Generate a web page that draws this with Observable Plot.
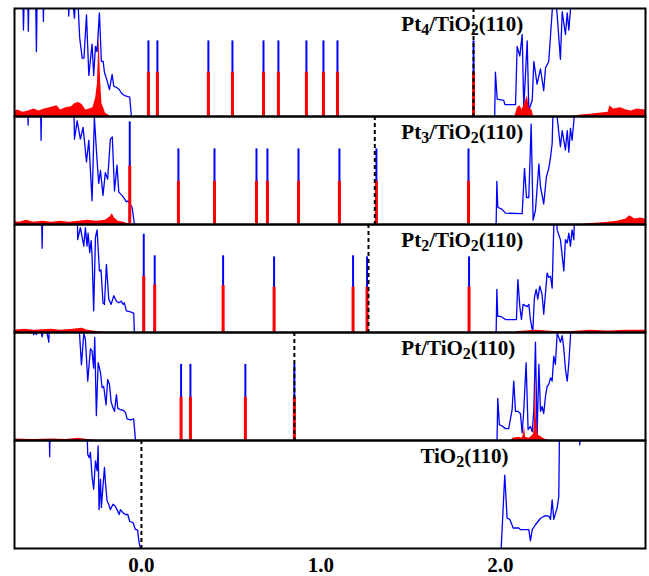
<!DOCTYPE html>
<html><head><meta charset="utf-8">
<script src="https://cdn.jsdelivr.net/npm/d3@7"></script>
<script src="https://cdn.jsdelivr.net/npm/@observablehq/plot@0.6"></script>
<style>body{margin:0;background:#fff}</style>
</head><body><div id="chart"></div>
<script>
// Panel titles (top to bottom); "_d" marks a subscript digit
const panelLabels = ["Pt_4/TiO_2(110)", "Pt_3/TiO_2(110)", "Pt_2/TiO_2(110)", "Pt/TiO_2(110)", "TiO_2(110)"];
const labelE = [1.448, 1.448, 1.448, 1.448, 1.554];
const fermiE = [1.85, 1.30, 1.265, 0.852, 0.0];
const xTicks = [0, 1, 2];

// Total DOS (blue), [energy, DOS] — valence and conduction parts
const pt4Valence = [[-0.72,1.5],[-0.665,1.5],[-0.657,0.80],[-0.648,1.5],[-0.637,1.5],[-0.63,0.79],[-0.622,1.5],[-0.592,1.5],[-0.585,0.60],[-0.578,1.5],[-0.552,1.5],[-0.546,0.88],[-0.54,1.5],[-0.412,1.5],[-0.405,0.93],[-0.395,1.3],[-0.373,0.91],[-0.36,1.3],[-0.344,0.73],[-0.33,0.54],[-0.32,0.54],[-0.306,0.94],[-0.293,0.38],[-0.275,0.67],[-0.266,0.38],[-0.256,0.65],[-0.247,0.60],[-0.234,0.96],[-0.223,0.51],[-0.213,0.51],[-0.206,0.41],[-0.191,0.33],[-0.178,0.25],[-0.163,0.39],[-0.154,0.28],[-0.139,0.27],[-0.124,0.25],[-0.108,0.21],[-0.089,0.19],[-0.065,0.18],[-0.056,0]];
const pt4Conduction = [[1.968,0],[1.972,0.41],[1.982,0.16],[2.018,0.15],[2.025,0.11],[2.084,0.11],[2.093,0.65],[2.108,0.56],[2.121,0.76],[2.130,0.085],[2.149,0.70],[2.158,0.055],[2.177,0.15],[2.186,0.51],[2.204,0.30],[2.223,0.44],[2.241,0.24],[2.251,0.45],[2.269,0.51],[2.288,0.97],[2.297,1.3],[2.316,0.94],[2.334,0.53],[2.344,0.97],[2.362,0.76],[2.372,0.96],[2.381,0.80],[2.390,0.99],[2.409,1.5],[2.82,1.5]];

const pt3Valence = [[-0.72,1.5],[-0.637,1.5],[-0.631,0.92],[-0.625,1.5],[-0.565,1.5],[-0.559,0.78],[-0.553,1.5],[-0.38,1.5],[-0.373,0.79],[-0.358,0.96],[-0.34,0.79],[-0.325,0.90],[-0.306,0.58],[-0.293,0.78],[-0.275,0.22],[-0.262,0.99],[-0.247,0.59],[-0.238,0.38],[-0.228,0.50],[-0.214,0.27],[-0.201,0.48],[-0.188,0.42],[-0.173,0.79],[-0.162,0.81],[-0.150,0.31],[-0.136,0.55],[-0.126,0.30],[-0.108,0.27],[-0.095,0.24],[-0.084,0.21],[-0.074,0.22],[-0.052,0.16],[-0.039,0]];
const pt3Conduction = [[1.976,0],[1.98,0.40],[1.985,0.16],[2.009,0.14],[2.028,0.105],[2.121,0.10],[2.134,0.52],[2.145,0.25],[2.158,0.25],[2.171,0.93],[2.182,0.04],[2.195,0.13],[2.214,0.56],[2.223,0.35],[2.241,0.19],[2.256,0.44],[2.269,0.52],[2.279,0.62],[2.288,0.75],[2.297,1.3],[2.316,0.99],[2.334,0.72],[2.344,0.87],[2.353,0.78],[2.362,0.69],[2.372,0.87],[2.381,0.67],[2.390,0.89],[2.399,0.78],[2.409,0.96],[2.427,1.5],[2.82,1.5]];

const pt2Valence = [[-0.72,1.5],[-0.56,1.5],[-0.553,0.78],[-0.546,1.5],[-0.36,1.5],[-0.355,0.86],[-0.340,0.97],[-0.321,0.80],[-0.312,0.97],[-0.303,0.80],[-0.297,0.92],[-0.288,0.74],[-0.280,0.85],[-0.275,0.72],[-0.266,0.20],[-0.256,0.88],[-0.247,0.95],[-0.234,0.57],[-0.225,0.58],[-0.214,0.275],[-0.206,0.26],[-0.195,0.63],[-0.182,0.31],[-0.169,0.26],[-0.154,0.34],[-0.139,0.29],[-0.126,0.275],[-0.113,0.29],[-0.102,0.26],[-0.095,0.275],[-0.084,0.20],[-0.061,0.19],[-0.043,0.18],[-0.039,0]];
const pt2Conduction = [[1.976,0],[1.98,0.40],[1.985,0.15],[2.0,0.15],[2.028,0.12],[2.089,0.12],[2.097,0.49],[2.108,0.24],[2.117,0.12],[2.126,0.26],[2.149,0.24],[2.158,0.26],[2.167,0.12],[2.180,0],[2.189,0.32],[2.199,0.40],[2.208,0.31],[2.219,0.43],[2.232,0.35],[2.241,0.17],[2.251,0.37],[2.260,0.55],[2.269,0.51],[2.279,0.52],[2.288,0.41],[2.297,0.98],[2.306,1.3],[2.316,0.95],[2.334,0.86],[2.344,0.71],[2.353,0.57],[2.362,0.86],[2.372,0.83],[2.381,0.92],[2.390,0.80],[2.399,0.95],[2.409,0.86],[2.418,1.5],[2.82,1.5]];

const pt1Valence = [[-0.72,1.3],[-0.61,1.1],[-0.60,0.98],[-0.59,1.02],[-0.585,0.98],[-0.57,1.1],[-0.553,0.96],[-0.54,1.1],[-0.52,0.95],[-0.516,0.91],[-0.508,1.3],[-0.36,1.3],[-0.349,1.1],[-0.334,0.70],[-0.321,0.99],[-0.312,0.94],[-0.299,0.55],[-0.284,0.85],[-0.275,0.83],[-0.266,0.67],[-0.260,0.955],[-0.251,0.23],[-0.241,0.72],[-0.228,0.63],[-0.219,0.49],[-0.210,0.50],[-0.197,0.33],[-0.188,0.565],[-0.178,0.52],[-0.169,0.36],[-0.158,0.30],[-0.150,0.27],[-0.139,0.425],[-0.132,0.30],[-0.117,0.285],[-0.102,0.28],[-0.089,0.26],[-0.080,0.20],[-0.061,0.19],[-0.043,0.20],[-0.033,0]];
const pt1Conduction = [[1.981,0],[1.985,0.39],[1.994,0.145],[2.009,0.135],[2.028,0.11],[2.046,0.11],[2.065,0.285],[2.074,0.55],[2.084,0.27],[2.097,0.27],[2.111,0.25],[2.121,0.07],[2.130,0.285],[2.143,0.72],[2.154,0.10],[2.167,0.13],[2.177,0.08],[2.186,0.285],[2.195,0.91],[2.204,0.035],[2.214,0.705],[2.223,0.27],[2.232,0.315],[2.241,0.25],[2.251,0.41],[2.260,0.50],[2.269,0.52],[2.279,0.58],[2.288,0.55],[2.297,0.78],[2.306,0.705],[2.316,0.99],[2.325,0.955],[2.334,0.91],[2.344,0.97],[2.353,0.85],[2.362,0.66],[2.372,0.55],[2.381,0.72],[2.390,0.96],[2.399,1.3],[2.82,1.5]];

const tio2Valence = [[-0.72,1.5],[-0.518,1.5],[-0.511,0.85],[-0.505,1.5],[-0.31,1.5],[-0.299,0.87],[-0.291,0.84],[-0.284,0.89],[-0.275,0.67],[-0.266,0.55],[-0.256,0.81],[-0.247,0.72],[-0.241,0.95],[-0.236,0.36],[-0.228,0.64],[-0.223,0.38],[-0.214,0.58],[-0.206,0.75],[-0.199,0.58],[-0.191,0.44],[-0.182,0.41],[-0.173,0.36],[-0.158,0.41],[-0.145,0.39],[-0.136,0.36],[-0.124,0.315],[-0.117,0.36],[-0.102,0.33],[-0.089,0.315],[-0.076,0.315],[-0.065,0.25],[-0.046,0.24],[-0.035,0.18],[-0.021,0.17],[-0.015,0.08],[-0.006,0]];
const tio2Conduction = [[2.004,0],[2.024,0.68],[2.037,0.28],[2.052,0.27],[2.071,0.19],[2.102,0.19],[2.111,0.175],[2.158,0.175],[2.167,0.07],[2.177,0.175],[2.195,0.22],[2.223,0.28],[2.251,0.305],[2.269,0.30],[2.279,0.27],[2.288,0.45],[2.297,0.27],[2.316,0.38],[2.325,0.48],[2.330,1.3],[2.435,1.3],[2.442,0.96],[2.449,1.3],[2.82,1.5]];

// Pt-projected DOS (red), [energy, DOS]
const pt4RedLow = [[-0.72,0.04],[-0.69,0.06],[-0.66,0.04],[-0.63,0.05],[-0.60,0.07],[-0.57,0.05],[-0.54,0.07],[-0.51,0.08],[-0.47,0.10],[-0.45,0.06],[-0.42,0.08],[-0.39,0.09],[-0.37,0.12],[-0.35,0.13],[-0.33,0.11],[-0.31,0.06],[-0.29,0.07],[-0.27,0.08],[-0.255,0.17],[-0.245,0.30],[-0.236,0.75],[-0.228,0.35],[-0.22,0.12],[-0.20,0.03],[-0.17,0]];
const pt4RedHigh = [[2.08,0],[2.095,0.08],[2.11,0.10],[2.12,0.06],[2.135,0.12],[2.15,0.19],[2.16,0.08],[2.175,0.06],[2.185,0],[2.40,0],[2.45,0.015],[2.50,0.02],[2.55,0.03],[2.60,0.04],[2.61,0.10],[2.63,0.07],[2.67,0.08],[2.70,0.06],[2.73,0.05],[2.76,0.07],[2.81,0.06]];
const pt3RedLow = [[-0.72,0.03],[-0.68,0.02],[-0.64,0.04],[-0.60,0.02],[-0.55,0.03],[-0.50,0.02],[-0.45,0.03],[-0.40,0.02],[-0.35,0.03],[-0.30,0.04],[-0.25,0.03],[-0.20,0.04],[-0.175,0.07],[-0.162,0.10],[-0.15,0.06],[-0.13,0.03],[-0.10,0.02],[-0.08,0.01],[-0.06,0]];
const pt3RedHigh = [[2.45,0],[2.50,0.01],[2.55,0.015],[2.60,0.02],[2.65,0.03],[2.70,0.05],[2.72,0.08],[2.75,0.05],[2.78,0.06],[2.81,0.05]];
const pt2RedLow = [[-0.72,0.02],[-0.65,0.03],[-0.6,0.02],[-0.5,0.03],[-0.45,0.02],[-0.38,0.03],[-0.33,0.04],[-0.30,0.02],[-0.25,0.01],[-0.2,0]];
const pt2RedHigh = [[2.08,0],[2.1,0.01],[2.2,0.02],[2.3,0.01],[2.4,0.01],[2.5,0.02],[2.6,0.015],[2.7,0.02],[2.81,0.02]];
const pt1RedLow = [[-0.72,0.015],[-0.6,0.01],[-0.5,0.015],[-0.42,0.01],[-0.35,0.02],[-0.3,0.01],[-0.25,0]];
const pt1RedHigh = [[2.06,0],[2.07,0.02],[2.10,0.03],[2.12,0.02],[2.128,0.05],[2.134,0.13],[2.14,0.03],[2.16,0.02],[2.175,0.04],[2.185,0.06],[2.19,0.2],[2.195,0.63],[2.20,0.2],[2.21,0.05],[2.23,0.03],[2.25,0.01],[2.28,0]];

// Gap states: [energy, total DOS height, Pt DOS height]
const pt4Spikes = [[0.039,0.70,0.41],[0.089,0.70,0.41],[0.373,0.70,0.41],[0.507,0.70,0.41],[0.680,0.70,0.41],[0.763,0.70,0.41],[0.919,0.70,0.41],[1.014,0.70,0.41],[1.092,0.70,0.41],[1.850,0.70,0.41]];
const pt3Spikes = [[-0.065,0.95,0.54],[0.206,0.70,0.40],[0.407,0.70,0.40],[0.641,0.70,0.40],[0.702,0.70,0.40],[0.875,0.70,0.40],[1.103,0.70,0.40],[1.309,0.70,0.40],[1.822,0.70,0.40]];
const pt2Spikes = [[0.013,0.91,0.52],[0.074,0.71,0.44],[0.455,0.71,0.435],[0.739,0.70,0.42],[1.179,0.71,0.42],[1.257,0.70,0.42],[1.825,0.70,0.42]];
const pt1Spikes = [[0.221,0.705,0.40],[0.273,0.705,0.40],[0.579,0.705,0.40],[0.852,0.705,0.40]];
const tio2Spikes = [];

// ---- build tables
const blueSets = [[pt4Valence, pt4Conduction],[pt3Valence, pt3Conduction],[pt2Valence, pt2Conduction],[pt1Valence, pt1Conduction],[tio2Valence, tio2Conduction]];
const redSets = [[pt4RedLow, pt4RedHigh],[pt3RedLow, pt3RedHigh],[pt2RedLow, pt2RedHigh],[pt1RedLow, pt1RedHigh],[]];
const spikeSets = [pt4Spikes, pt3Spikes, pt2Spikes, pt1Spikes, tio2Spikes];

const blueRows = [], redRows = [], spikeRows = [];
blueSets.forEach((segs, p) => segs.forEach((seg, s) => seg.forEach(([E, v]) => blueRows.push({panel: p, seg: p + "-" + s, E, v}))));
redSets.forEach((segs, p) => segs.forEach((seg, s) => seg.forEach(([E, v]) => redRows.push({panel: p, seg: p + "-" + s, E, v}))));
spikeSets.forEach((list, p) => list.forEach(([E, b, r]) => spikeRows.push({panel: p, E, b, r})));
const fermiRows = fermiE.map((E, p) => ({panel: p, E}));
const labelRows = panelLabels.map((t, p) => ({panel: p, t, E: labelE[p]}));

const chart = Plot.plot({
  width: 649, height: 576,
  marginLeft: 14, marginRight: 4, marginTop: 7, marginBottom: 27,
  style: {fontFamily: "'Liberation Serif', 'Times New Roman', serif", fontSize: "21px", fontWeight: "bold", background: "#fff", color: "#000"},
  x: {domain: [-0.707, 2.808], ticks: xTicks, tickFormat: d3.format(".1f"), tickSize: 0, tickPadding: 9, label: null},
  y: {domain: [0, 1], axis: null},
  fy: {domain: [0, 1, 2, 3, 4], axis: null, padding: 0},
  marks: [
    Plot.line(blueRows, {x: "E", y: "v", z: "seg", fy: "panel", stroke: "#0000ff", strokeWidth: 1.3, clip: true}),
    Plot.ruleX(spikeRows, {x: "E", y1: 0, y2: "b", fy: "panel", stroke: "#0000ff", strokeWidth: 2}),
    Plot.areaY(redRows, {x: "E", y: "v", z: "seg", fy: "panel", fill: "#ff0000", clip: true}),
    Plot.ruleX(spikeRows, {x: "E", y1: 0, y2: "r", fy: "panel", stroke: "#ff0000", strokeWidth: 3}),
    Plot.ruleX(fermiRows, {x: "E", fy: "panel", stroke: "#000", strokeWidth: 2, strokeDasharray: "4,3"}),
    Plot.text(labelRows, {x: "E", y: 0.79, text: "t", fy: "panel", textAnchor: "start", lineAnchor: "bottom", fontSize: 21, fontWeight: "bold", fill: "#000"}),
    Plot.frame({stroke: "#000", strokeWidth: 2})
  ]
});

// subscripts in panel labels
d3.select(chart).selectAll("text").each(function () {
  const t = this.textContent;
  if (!t.includes("_")) return;
  const parts = t.split(/_(\d)/);
  this.textContent = "";
  let shifted = false;
  parts.forEach((s, i) => {
    if (!s) return;
    const ts = document.createElementNS("http://www.w3.org/2000/svg", "tspan");
    if (i % 2 === 1) { ts.setAttribute("font-size", "16"); ts.setAttribute("dy", "4"); shifted = true; }
    else if (shifted) { ts.setAttribute("dy", "-4"); shifted = false; }
    ts.textContent = s;
    this.appendChild(ts);
  });
});

document.getElementById("chart").appendChild(chart);
</script>
</body></html>
